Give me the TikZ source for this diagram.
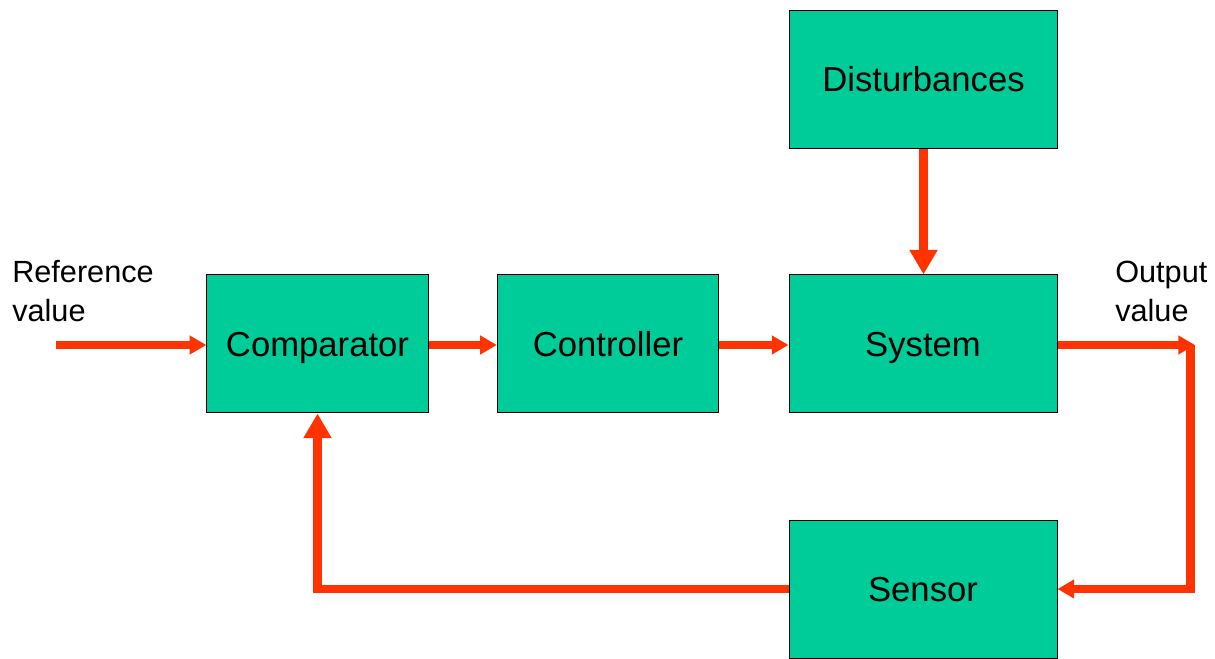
\documentclass[tikz,border=0pt]{standalone}
\usepackage{fontspec}
\setmainfont{Liberation Sans}
\usetikzlibrary{arrows.meta}
\definecolor{boxgreen}{RGB}{0,204,153}
\definecolor{sigred}{RGB}{255,51,0}
\tikzset{
	block/.style={draw=black, line width=0.75pt, fill=boxgreen, inner sep=0pt,
		minimum width=166pt, minimum height=103.5pt, text height=18.6pt, text depth=0pt,
		font=\fontsize{26}{30}\selectfont},
	wideblock/.style={block, minimum width=201pt},
	signal/.style={draw=sigred, line width=5.5pt, line join=miter, -{Triangle[width=13.5pt,length=12.5pt]}},
	loopsignal/.style={signal, line width=6.5pt},
	bigsignal/.style={draw=sigred, line width=7pt, line join=miter, -{Triangle[width=20pt,length=18.5pt]}},
	lbl/.style={inner sep=0pt, align=left, font=\fontsize{23}{29.5}\selectfont}
}

\begin{document}
\begin{tikzpicture}[x=0.75pt,y=0.75pt,yscale=-1,xscale=1]
	\useasboundingbox (0,0) rectangle (1215,659);

	% Blocks
	\node[wideblock] (dist) at (923.5,79.5) {Disturbances};
	\node[block] (comp) at (317.5,344) {Comparator};
	\node[block] (ctrl) at (608,344) {Controller};
	\node[wideblock] (sys) at (923,344) {System};
	\node[wideblock] (sens) at (923,589) {Sensor};

	% Labels
	\node[lbl, anchor=base west] (reflbl) at (12,322) {Reference\\value};
	\node[lbl, anchor=base west] (outlbl) at (1115,322) {Output\\value};

	% Free ends
	\coordinate (refin) at (56,345);
	\coordinate (outpt) at (1195,345);
	\coordinate (cornA) at (1190.5,345);
	\coordinate (cornB) at (1190.5,589);

	% Forward path
	\draw[signal] (refin) -- (comp.west |- refin);
	\draw[signal] (comp.east |- refin) -- (ctrl.west |- refin);
	\draw[signal] (ctrl.east |- refin) -- (sys.west |- refin);
	\draw[bigsignal] (dist) -- (dist |- sys.north);
	\draw[signal] (sys.east |- refin) -- (outpt);

	% Feedback path
	\draw[loopsignal] (cornA) -- (cornB) -- (sens);
	\draw[bigsignal, line width=6.5pt] (sens.west) -| (comp.south);

\end{tikzpicture}
\end{document}
